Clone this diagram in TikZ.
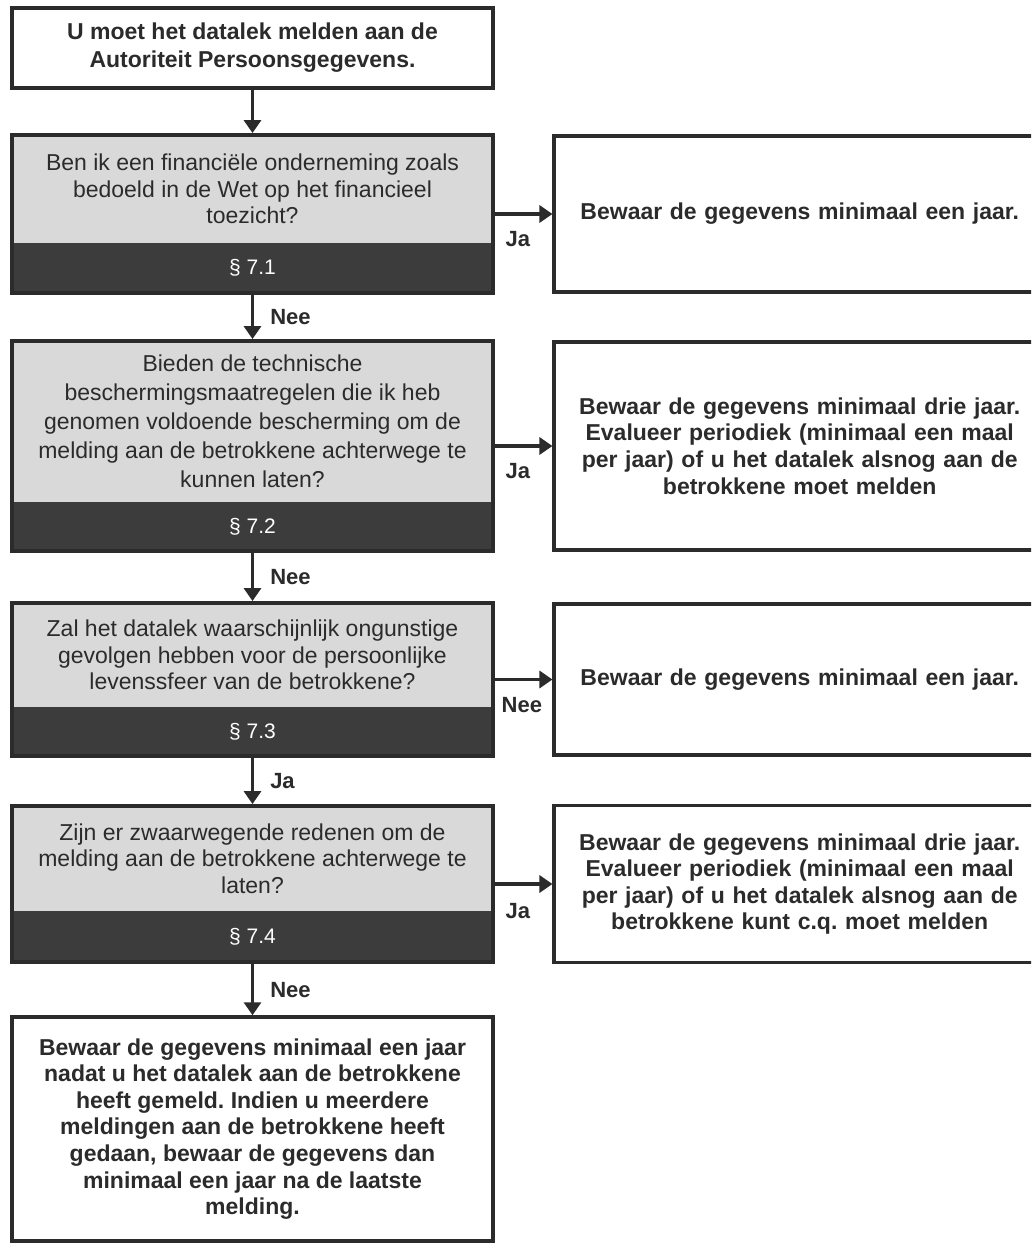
\documentclass[tikz,border=0pt]{standalone}
\usepackage{fontspec}
\setmainfont{Liberation Sans}
\usetikzlibrary{arrows.meta,fit,positioning}
\definecolor{ink}{HTML}{2B2B2B}
\definecolor{bandgray}{HTML}{3C3C3C}
\definecolor{qgray}{HTML}{D9D9D9}
\frenchspacing
\tikzset{
  frame/.style={draw=ink, line width=3.5pt},
  ansbox/.style={frame, fill=white, align=center, text=ink, inner sep=0pt,
    font=\fontsize{23}{26.6}\selectfont\bfseries},
  qtext/.style={fill=qgray, align=center, text=ink, inner sep=0pt, minimum width=481pt,
    font=\fontsize{23}{26.6}\selectfont},
  qband/.style={fill=bandgray, text=white, inner sep=0pt, minimum width=481pt,
    font=\fontsize{21}{24}\selectfont},
  qframe/.style={frame, inner sep=0pt},
  flow/.style={draw=ink, line width=3.5pt, -{Triangle[length=13pt,width=17pt]}},
  lbl/.style={text=ink, inner sep=0pt, font=\fontsize{22}{24}\selectfont\bfseries},
  hlbl/.style={lbl, pos=0, anchor=north west, xshift=9pt, yshift=-16pt},
  vlbl/.style={lbl, anchor=west, xshift=16pt},
}
\begin{document}
\begin{tikzpicture}[x=1pt,y=-1pt]
\clip (0,0) rectangle (1031,1244);
\fill[white] (0,0) rectangle (1031,1244);

% start box
\node[ansbox, minimum width=481pt, minimum height=80pt,
  font=\fontsize{23}{28}\selectfont\bfseries] (start) at (252.5,48)
  {U moet het datalek melden aan de\\Autoriteit Persoonsgegevens.};

% question 1
\node[qtext, minimum height=108pt] (q1t) at (252.5,189)
  {Ben ik een financiële onderneming zoals\\bedoeld in de Wet op het financieel\\toezicht?};
\node[qband, minimum height=50pt] (q1s) at (252.5,268) {§ 7.1};
\node[qframe, fit=(q1t)(q1s)] (q1) {};

% question 2
\node[qtext, minimum height=161pt, font=\fontsize{23}{29}\selectfont] (q2t) at (252.5,421.5)
  {Bieden de technische\\beschermingsmaatregelen die ik heb\\genomen voldoende bescherming om de\\melding aan de betrokkene achterwege te\\kunnen laten?};
\node[qband, minimum height=49pt] (q2s) at (252.5,526.5) {§ 7.2};
\node[qframe, fit=(q2t)(q2s)] (q2) {};

% question 3
\node[qtext, minimum height=104pt] (q3t) at (252.5,655)
  {Zal het datalek waarschijnlijk ongunstige\\gevolgen hebben voor de persoonlijke\\levenssfeer van de betrokkene?};
\node[qband, minimum height=49pt] (q3s) at (252.5,731.5) {§ 7.3};
\node[qframe, fit=(q3t)(q3s)] (q3) {};

% question 4
\node[qtext, minimum height=105pt] (q4t) at (252.5,858.5)
  {Zijn er zwaarwegende redenen om de\\melding aan de betrokkene achterwege te\\laten?};
\node[qband, minimum height=51pt] (q4s) at (252.5,936.5) {§ 7.4};
\node[qframe, fit=(q4t)(q4s)] (q4) {};

% final box
\node[ansbox, minimum width=481pt, minimum height=224pt] (final) at (252.5,1129)
  {Bewaar de gegevens minimaal een jaar\\nadat u het datalek aan de betrokkene\\heeft gemeld. Indien u meerdere\\meldingen aan de betrokkene heeft\\gedaan, bewaar de gegevens dan\\minimaal een jaar na de laatste\\melding.};

% answer boxes on the right
\node[ansbox, anchor=west, right=57.5pt of q1, minimum width=491pt, minimum height=156pt,
  text width=474pt] (r1)
  {Bewaar de gegevens minimaal een jaar.};
\node[ansbox, anchor=west, right=57.5pt of q2, minimum width=491pt, minimum height=208pt,
  text width=474pt] (r2)
  {Bewaar de gegevens minimaal drie jaar.\\Evalueer periodiek (minimaal een maal\\per jaar) of u het datalek alsnog aan de\\betrokkene moet melden};
\node[ansbox, anchor=west, right=57.5pt of q3, minimum width=491pt, minimum height=151pt,
  text width=474pt] (r3)
  {Bewaar de gegevens minimaal een jaar.};
\node[ansbox, anchor=west, right=57.5pt of q4, minimum width=491pt, minimum height=157pt,
  text width=474pt] (r4)
  {Bewaar de gegevens minimaal drie jaar.\\Evalueer periodiek (minimaal een maal\\per jaar) of u het datalek alsnog aan de\\betrokkene kunt c.q. moet melden};

% vertical connectors
\draw[flow] (start.south) -- (q1.north);
\draw[flow] (q1.south) -- node[vlbl] {Nee} (q2.north);
\draw[flow] (q2.south) -- node[vlbl] {Nee} (q3.north);
\draw[flow] (q3.south) -- node[vlbl] {Ja} (q4.north);
\draw[flow] (q4.south) -- node[vlbl] {Nee} (final.north);

% horizontal connectors
\draw[flow] (q1.east) -- node[hlbl] {Ja} (r1.west);
\draw[flow] (q2.east) -- node[hlbl] {Ja} (r2.west);
\draw[flow] (q3.east) -- node[hlbl, xshift=-4pt] {Nee} (r3.west);
\draw[flow] (q4.east) -- node[hlbl, yshift=-2pt] {Ja} (r4.west);
\end{tikzpicture}
\end{document}
